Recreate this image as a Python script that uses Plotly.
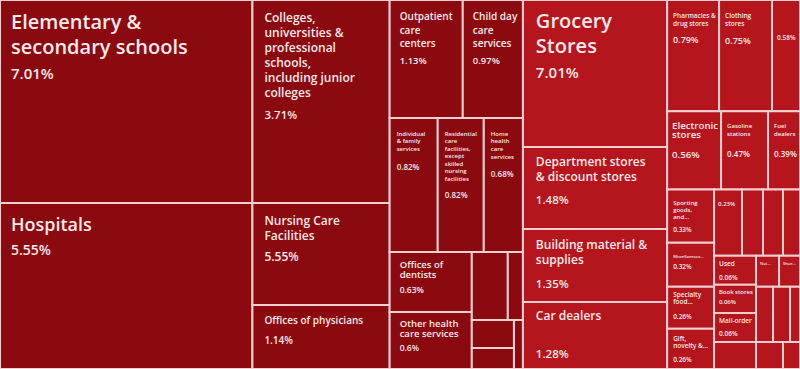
import math
import plotly.graph_objects as go

# ---------------- data (leaf tiles) ----------------
he_names = [
    "Elementary &\nsecondary schools", "Hospitals",
    "Colleges,\nuniversities &\nprofessional\nschools,\nincluding junior\ncolleges",
    "Nursing Care\nFacilities", "Offices of physicians",
    "Outpatient\ncare\ncenters", "Child day\ncare\nservices",
    "Individual\n& family\nservices",
    "Residential\ncare\nfacilities,\nexcept\nskilled\nnursing\nfacilities",
    "Home\nhealth\ncare\nservices",
    "Offices of\ndentists", "Other health\ncare services",
    "", "", "", "", "",
]
he_labels = ["7.01%", "5.55%", "3.71%", "5.55%", "1.14%", "1.13%", "0.97%", "0.82%", "0.82%",
             "0.68%", "0.63%", "0.6%", "", "", "", "", ""]
he_sizes = [7.008, 5.730, 3.810, 1.914, 1.201, 1.180, 0.970, 0.881, 0.844, 0.716, 0.674, 0.640,
            0.335, 0.140, 0.161, 0.121, 0.060]

rt_names = [
    "Grocery\nStores", "Department stores\n& discount stores", "Building material &\nsupplies",
    "Car dealers",
    "Pharmacies &\ndrug stores", "Clothing\nstores", "",
    "Electronic\nstores", "Gasoline\nstations", "Fuel\ndealers",
    "Sporting\ngoods,\nand...", "Miscellaneous...", "Specialty\nfood...", "Gift,\nnovelty &...",
    "", "", "", "",
    "Used", "Book stores", "Mail-order", "",
    "Not...", "Shoe...", "", "", "", "", "",
]
rt_labels = ["7.01%", "1.48%", "1.35%", "1.28%", "0.79%", "0.75%", "0.58%", "0.56%", "0.47%",
             "0.39%", "0.33%", "0.32%", "0.26%", "0.26%", "0.23%", "", "", "",
             "0.06%", "0.06%", "0.06%", "", "", "", "", "", "", "", ""]
rt_sizes = [2.900, 1.618, 1.440, 1.322, 0.791, 0.806, 0.426, 0.577, 0.502, 0.342,
            0.341, 0.283, 0.270, 0.258, 0.253, 0.190, 0.181, 0.154,
            0.167, 0.161, 0.167, 0.155, 0.098, 0.089, 0.128, 0.128, 0.075, 0.100, 0.063]

# grouping of leaves into rows/columns of tiles (structure only)
he_groups = ["c1", "c1", "c2", "c2", "c2", "r1", "r1", "r2", "r2", "r2", "d1", "d1",
             "e1", "e1", "f", "f", "e2"]
rt_groups = ["g1", "g1", "g1", "g1", "h1", "h1", "h1", "h2", "h2", "h2",
             "i1", "i1", "i1", "i1", "j1", "j1", "j1", "j1", "k1", "k1", "k1", "k1",
             "m1", "m1", "m2", "m2", "m2", "m3", "m3"]
he_tree = [("cols", None), ("c1", "cols"), ("c2", "cols"), ("c3", "cols"), ("r1", "c3"), ("r2", "c3"),
           ("r3", "c3"), ("d1", "r3"), ("d2", "r3"), ("e1", "d2"), ("e2", "d2"), ("f", "e2")]
rt_tree = [("cols", None), ("g1", "cols"), ("g2", "cols"), ("h1", "g2"), ("h2", "g2"), ("h3", "g2"),
           ("i1", "h3"), ("i2", "h3"), ("j1", "i2"), ("j2", "i2"), ("k1", "j2"), ("k2", "j2"),
           ("m1", "k2"), ("m2", "k2"), ("m3", "k2")]

# ---------------- styles ----------------
# (name font, percent font, left inset, cap-top inset, name line spacing, name->percent gap)
E = (6, 6, 6, 6, 0, 0)
he_style = [(20, 15, 12, 15, 25, 26), (18, 14, 12, 15, 0, 24), (12, 11.5, 13, 13, 15, 23),
            (12, 12, 13, 13, 15, 21), (10, 10, 13, 12, 0, 20), (10, 9.5, 11, 13, 13.5, 17),
            (10, 9.5, 11, 13, 13.5, 17), (6, 8, 8, 13, 7.5, 19), (6, 8, 8, 13, 7.5, 17),
            (6, 8, 8, 13, 7.7, 18), (9.5, 8.5, 11, 9, 10, 15), (9.5, 8.5, 11, 8.5, 10, 14),
            E, E, E, E, E]
rt_style = [(20, 15, 14, 13, 25, 25), (12, 11.5, 14, 11, 15, 22), (12, 11.5, 14, 11, 15, 24),
            (12, 11.5, 14, 9, 0, 38), (6.5, 9, 7, 14, 7.4, 17.6), (6.5, 9, 7, 14, 7.4, 17.6),
            (6.5, 6.5, 6, 36, 0, 0), (10, 10, 6, 11, 10, 20), (6, 8, 7, 12, 7.7, 22),
            (6, 8, 7, 12, 7.7, 22), (6, 6.5, 7, 11, 6.7, 14), (4, 6.5, 7, 12, 0, 11),
            (6.5, 6.5, 7, 5, 7, 15), (6.5, 6.5, 7, 7, 7, 14), (6, 6, 5, 13, 0, 0), E, E, E,
            (6.5, 6.5, 6, 5, 0, 14), (6.5, 6.5, 6, 4, 0, 11), (6.5, 6.5, 6, 5, 0, 13), E,
            (4, 4, 5, 6, 0, 0), (4, 4, 5, 6, 0, 0), E, E, E, E, E]
HE_COLOR = "#8a0a10"
RT_COLOR = "#b5161e"
LINE_COLOR = "#f3cfcf"
TEXT_COLOR = "#f7e9e9"
NBSP_EM = 0.26      # width of a no-break space in Open Sans
ASC, CAP = 1.07, 0.714
LINE_EM = 1.3       # plotly line spacing (em of the base font)
TEXT_PAD = 3        # plotly's own inset


def indent_span(extra, font):
    if extra <= 0.5:
        return ""
    k = max(1, math.ceil(extra / (NBSP_EM * font)))
    fs = extra / (NBSP_EM * k)
    return f"<span style='font-size:{fs:.2f}px'>{'&nbsp;' * k}</span>"


def tile_text(name, pct, style):
    n, p, left, top, S, G = style
    names = name.split("\n") if name else []
    if not names and not pct:
        return "", 10
    D = top - TEXT_PAD
    first = n if names else p
    qmax = D + CAP * first
    if len(names) >= 2:
        best = None
        for a in range(1, 9):
            q = S / a
            if q > qmax:
                continue
            c = max(1, round(G / q))
            err = abs(c * q - G)
            if best is None or err < best[0] - 0.6:
                best = (err, a, q, c)
        _, a, q, c = best
    elif names and pct:
        c = max(1, math.ceil(G / qmax))
        q, a = G / c, 1
    else:
        q, a, c = min(LINE_EM * first, qmax), 1, 1
    x = max(0.3, (D - q + CAP * first) / ASC)
    lines = {0: f"<span style='font-size:{x:.2f}px'>&nbsp;</span>"}
    idx = 1
    for i, nm in enumerate(names):
        idx = 1 + i * a
        lines[idx] = indent_span(left - TEXT_PAD - 1, n) + f"<span style='font-size:{n}px'>{nm}</span>"
    if pct:
        idx = idx + c if names else 1
        lines[idx] = indent_span(left - TEXT_PAD - 1, p) + f"<span style='font-size:{p}px'>{pct}</span>"
    out = [lines.get(i, "&nbsp;") for i in range(max(lines) + 1)]
    return "<br>".join(out), q / LINE_EM


ids, parents, values, texts, colors, sizes, widths = [], [], [], [], [], [], []


def add(i, p, v, t, c, s, w):
    ids.append(i); parents.append(p); values.append(v); texts.append(t)
    colors.append(c); sizes.append(s); widths.append(w)


for sec, tree, names, labels, szs, groups, styles, col in [
    ("Health & education", he_tree, he_names, he_labels, he_sizes, he_groups, he_style, HE_COLOR),
    ("Retail", rt_tree, rt_names, rt_labels, rt_sizes, rt_groups, rt_style, RT_COLOR),
]:
    add(sec, "", 0, "", col, 10, 0)
    for g, gp in tree:
        add(f"{sec}/{g}", sec if gp is None else f"{sec}/{gp}", 0, "", col, 10, 0)
    for k, (nm, lb, sz, gr, st) in enumerate(zip(names, labels, szs, groups, styles)):
        leaf_id = f"{sec}/{nm.replace(chr(10), ' ').strip() or 'item'} #{k}"
        txt, base = tile_text(nm, lb, st)
        add(leaf_id, f"{sec}/{gr}", sz, txt, col, base, 2)

fig = go.Figure(go.Treemap(
    ids=ids, labels=ids, parents=parents, values=values,
    branchvalues="remainder", sort=False,
    text=texts, textinfo="text", textposition="top left",
    textfont=dict(family="Open Sans", size=sizes, color=TEXT_COLOR, weight=600),
    marker=dict(colors=colors, line=dict(color=LINE_COLOR, width=widths),
                pad=dict(t=0, l=0, r=0, b=0)),
    root=dict(color=HE_COLOR),
    tiling=dict(packing="slice-dice", pad=0),
    pathbar=dict(visible=False),
    hoverinfo="skip",
))
fig.update_layout(width=800, height=369, margin=dict(l=0, r=0, t=0, b=0),
                  paper_bgcolor="white", hovermode=False)
fig.write_html("out.html", config={"displayModeBar": False},
               post_script="document.body.style.margin='0';document.body.style.overflow='hidden';")
